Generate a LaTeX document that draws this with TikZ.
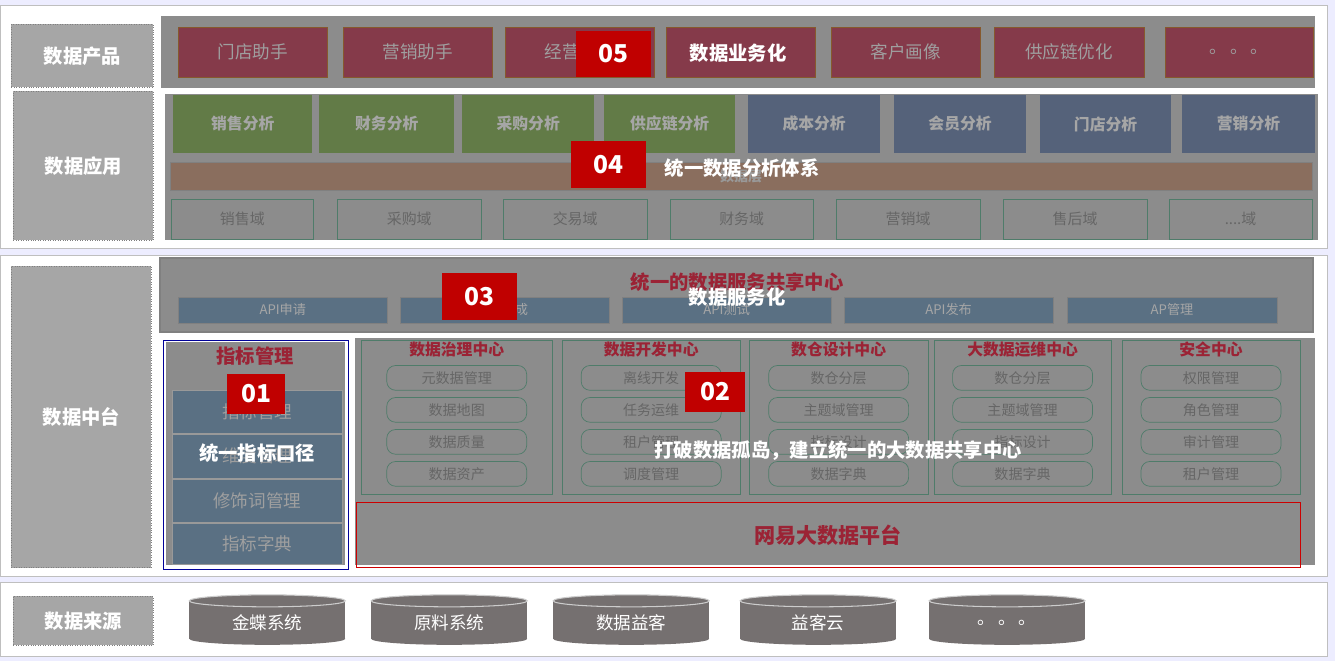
\documentclass[tikz,border=0pt]{standalone}
\usepackage{fontspec}
\setmainfont{Noto Sans CJK SC}
\usetikzlibrary{positioning}
\definecolor{bandgray}{HTML}{8C8C8C}
\definecolor{labgray}{HTML}{A6A6A6}
\definecolor{prodred}{HTML}{853A4A}
\definecolor{appgreen}{HTML}{627B47}
\definecolor{appblue}{HTML}{55627A}
\definecolor{layerbrown}{HTML}{8A6E5E}
\definecolor{linegreen}{HTML}{4F7C6A}
\definecolor{apiblue}{HTML}{5A7083}
\definecolor{titlered}{HTML}{9B2335}
\definecolor{badgered}{HTML}{C00000}
\definecolor{cylgray}{HTML}{757070}
\tikzset{
  layerlabel/.style={draw=gray, densely dotted, fill=labgray, text=white, font=\fontsize{11}{13}\selectfont\bfseries},
  prodbox/.style={draw=brown!70!black, fill=prodred, text=gray!75, font=\fontsize{10}{12}\selectfont},
  appbox/.style={fill=#1, text=gray!70, font=\fontsize{9}{11}\selectfont\bfseries},
  domainbox/.style={draw=linegreen, text=black!60, font=\fontsize{8.5}{10}\selectfont},
  apibox/.style={draw=gray, fill=apiblue, text=gray!70, font=\fontsize{7.5}{9}\selectfont},
  pill/.style={draw=linegreen, rounded corners=5pt, text=black!60, font=\fontsize{8}{10}\selectfont},
  centerbox/.style={draw=linegreen},
  ctitle/.style={text=titlered, font=\fontsize{9}{11}\selectfont\bfseries},
  badge/.style={fill=badgered, text=white, font=\fontsize{14}{16}\selectfont\bfseries},
  overlay/.style={text=white, font=\fontsize{11}{13}\selectfont\bfseries},
}
\begin{document}
\begin{tikzpicture}[x=0.02cm,y=-0.02cm]
  \fill[white!93!blue] (0,0) rectangle (1335,661);
  % panels
  \draw[gray!50, fill=white] (0,5) rectangle (1327,248);
  \draw[gray!50, fill=white] (0,255) rectangle (1327,577);
  \draw[gray!50, fill=white] (0,583) rectangle (1327,657);
  \node[layerlabel, minimum width=2.84cm, minimum height=1.26cm] (lprod) at (82,56) {数据产品};
  \node[layerlabel, minimum width=2.8cm, minimum height=2.98cm] (lapp) at (83,166) {数据应用};
  \node[layerlabel, minimum width=2.8cm, minimum height=6.04cm] (lmid) at (81,417) {数据中台};
  \node[layerlabel, minimum width=2.8cm, minimum height=0.98cm] (lsrc) at (83,621) {数据来源};
  % data products
  \fill[bandgray] (161,16) rectangle (1315,88);
  \foreach \xa/\xb/\t [count=\i] in {178/327/门店助手, 343/492/营销助手, 505/654/经营分析, 666/815/{}, 831/980/客户画像, 994/1144/供应链优化, 1165/1313/{。\,。\,。}}
    \draw[prodbox] (\xa,27) rectangle (\xb,77) node[midway] (prod\i) {\t};
  % data applications
  \fill[bandgray] (165,94) rectangle (1318,240);
  \foreach \xa/\xb/\c/\t [count=\i] in {173/312/appgreen/销售分析, 319/454/appgreen/财务分析, 462/594/appgreen/采购分析, 604/735/appgreen/供应链分析, 748/880/appblue/成本分析, 894/1026/appblue/会员分析, 1040/1171/appblue/门店分析, 1182/1315/appblue/营销分析}
    \fill[\c] (\xa,95) rectangle (\xb,153) node[midway, appbox=\c] (app\i) {\t};
  \draw[gray, fill=layerbrown] (170,162) rectangle (1312,190) node[midway, text=gray!80, font=\fontsize{8}{10}\selectfont\bfseries] (dlayer) {数据层};
  \foreach \xa/\xb/\t [count=\i] in {171/313/销售域, 337/481/采购域, 503/647/交易域, 670/813/财务域, 836/980/营销域, 1003/1147/售后域, 1169/1312/{.\kern0pt.\kern0pt.\kern0pt.域}}
    \draw[domainbox] (\xa,199) rectangle (\xb,239) node[midway] (dom\i) {\t};
  % data service
  \draw[black!50, line width=1pt, fill=bandgray] (160,258) rectangle (1313,332);
  \node[ctitle, font=\fontsize{11}{13}\selectfont\bfseries] (svc) at (737,282) {统一的数据服务共享中心};
  \foreach \xa/\xb/\t [count=\i] in {178/387/API申请, 400/609/API集成, 622/831/API测试, 844/1053/API发布, 1067/1277/AP管理}
    \draw[apibox] (\xa,297) rectangle (\xb,323) node[midway] (api\i) {\t};
  % indicator management
  \fill[bandgray] (355,338) rectangle (1315,565);
  \draw[blue!60!black] (163,340) rectangle (348,570);
  \fill[bandgray] (166,342) rectangle (345,565);
  \node[ctitle, font=\fontsize{11}{13}\selectfont\bfseries] (kpi) at (255,356) {指标管理};
  \foreach \ya/\yb/\t [count=\i] in {390/433/指标管理, 434/478/维度管理, 479/522/修饰词管理, 523/565/指标字典}
    \draw[gray!80, fill=apiblue] (172,\ya) rectangle (342,\yb) node[midway, text=gray!75, font=\fontsize{10}{12}\selectfont] (kpi\i) {\t};
  % big data platform
  \draw[red!80!black] (356,502) rectangle (1300,568);
  \node[ctitle, font=\fontsize{12}{14}\selectfont\bfseries] (plat) at (828,535) {网易大数据平台};
  \foreach \xa/\xb/\t/\pa/\pb/\pc/\pd [count=\i] in {
      361/552/数据治理中心/元数据管理/数据地图/数据质量/数据资产,
      562/740/数据开发中心/离线开发/任务运维/租户管理/调度管理,
      749/928/数仓设计中心/数仓分层/主题域管理/指标设计/数据字典,
      934/1111/大数据运维中心/数仓分层/主题域管理/指标设计/数据字典,
      1122/1300/安全中心/权限管理/角色管理/审计管理/租户管理}{
    \draw[centerbox] (\xa,340) rectangle (\xb,494);
    \node[ctitle] (ct\i) at ({(\xa+\xb)/2},350) {\t};
    \foreach \p/\y [count=\j] in {\pa/378, \pb/410, \pc/442, \pd/474}
      \node[pill, minimum width=2.8cm, minimum height=0.46cm] (p\i\j) at ({(\xa+\xb)/2},\y) {\p};
  }
  % data sources
  \foreach \xa/\t [count=\i] in {189/金蝶系统, 371/原料系统, 553/数据益客, 740/益客云, 929/{。\,。\,。}}{
    \fill[cylgray] (\xa,601) rectangle (\xa+156,639);
    \fill[cylgray] (\xa+78,639) ellipse[x radius=78, y radius=6];
    \filldraw[fill=cylgray, draw=white!60!gray, line width=0.6pt] (\xa+78,601) ellipse[x radius=78, y radius=6];
    \node[text=white, font=\fontsize{10}{12}\selectfont] (src\i) at (\xa+78,623) {\t};
  }
  % badges and overlays
  \node[badge, minimum width=1.5cm, minimum height=0.92cm] (b5) at (613,54) {05};
  \node[overlay] (o5) at (738,53) {数据业务化};
  \node[badge, minimum width=1.5cm, minimum height=0.94cm] (b4) at (608,165) {04};
  \node[overlay] (o4) at (742,168) {统一数据分析体系};
  \node[badge, minimum width=1.5cm, minimum height=0.94cm] (b3) at (479,297) {03};
  \node[overlay] (o3) at (737,297) {数据服务化};
  \node[badge, minimum width=1.16cm, minimum height=0.8cm] (b1) at (256,394) {01};
  \node[overlay] (o1) at (257,453) {统一指标口径};
  \node[badge, minimum width=1.2cm, minimum height=0.8cm] (b2) at (715,392) {02};
  \node[overlay] (o2) at (838,451) {打破数据孤岛，建立统一的大数据共享中心};
\end{tikzpicture}
\end{document}
